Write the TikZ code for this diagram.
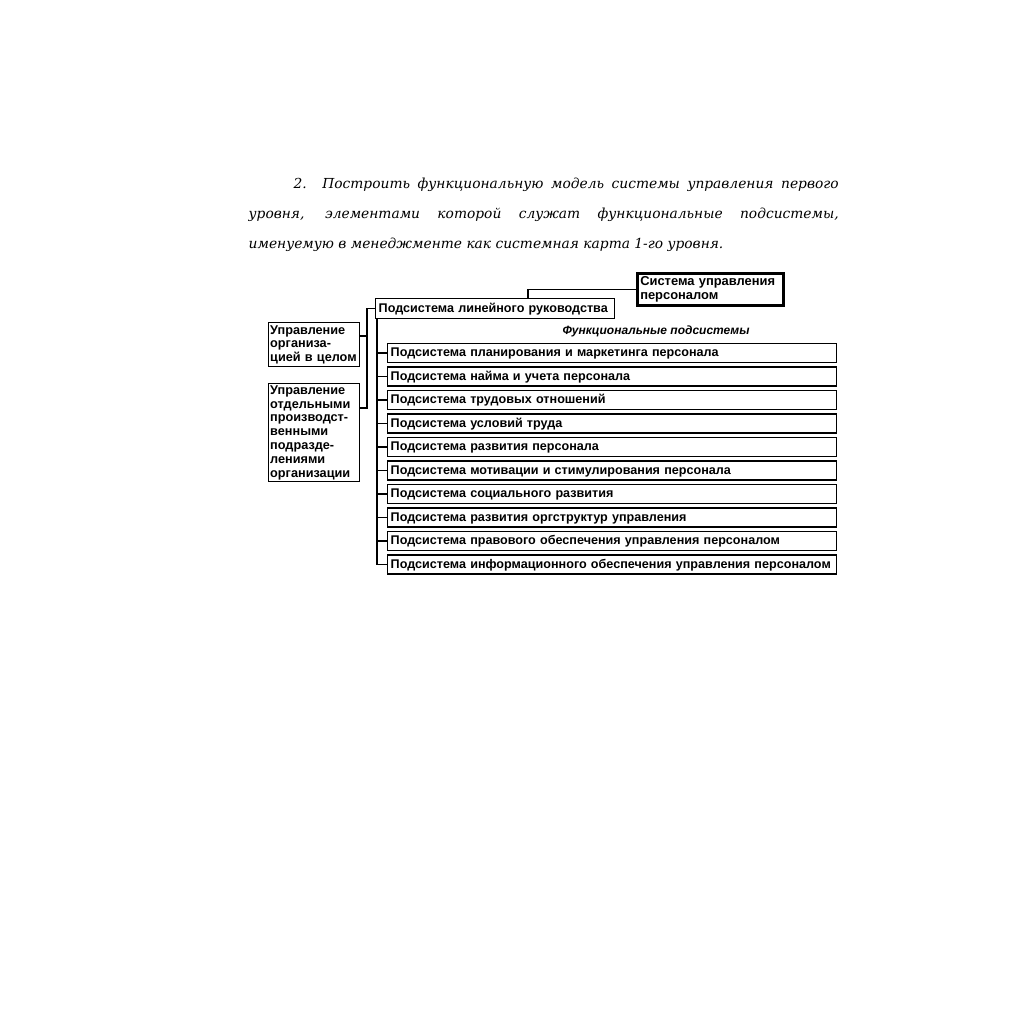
\documentclass[tikz,border=0pt]{standalone}
\usepackage{fontspec}
\setmainfont{DejaVu Serif}
\setsansfont{Liberation Sans}
\usetikzlibrary{positioning}
\tikzset{
  box/.style = {draw, rectangle, inner xsep=3pt, inner ysep=0pt, align=left,
                font=\sffamily\bfseries\fontsize{12.6}{13.8}\selectfont},
  subbox/.style = {box, anchor=west, minimum width=449pt, minimum height=19pt, text width=443pt,
                   text height=9pt, text depth=2pt},
  leftbox/.style = {box, anchor=north west, inner xsep=1.5pt, minimum width=91pt, text width=88pt,
                    font=\sffamily\bfseries\fontsize{12.7}{13.8}\selectfont}
}
\begin{document}
\begin{tikzpicture}[x=1pt, y=-1pt, line width=1.4pt]
\useasboundingbox (0,0) rectangle (1024,1024);
% task text
\node[anchor=north west, inner sep=0pt, text width=590pt, align=justify,
      font=\itshape\fontsize{13.8}{30}\selectfont] (task) at (248,177)
  {\hspace*{45pt}2. Построить функциональную модель системы управления первого уровня, элементами которой служат функциональные подсистемы, именуемую в менеджменте как системная карта 1-го уровня.};
% top boxes
\node[box, anchor=north west, line width=2.5pt, minimum width=146pt, minimum height=32pt, text width=140pt,
      font=\sffamily\bfseries\fontsize{12.9}{13.8}\selectfont] (sys) at (636,272)
  {Система управления\\персоналом};
\node[box, anchor=north west, minimum width=239pt, minimum height=20pt, text width=233pt,
      text height=9pt, text depth=2pt] (lin) at (375,298)
  {Подсистема линейного руководства};
\draw (sys.west) -| (528,0 |- lin.north);
% left boxes
\node[leftbox, minimum height=44pt] (org) at (268,322)
  {Управление\\организа-\\цией в целом};
\node[leftbox, minimum height=98pt] (div) at (268,383)
  {Управление\\отдельными\\производст-\\венными\\подразде-\\лениями\\организации};
\draw (lin.west) -- (367,0 |- lin.west) -- (367,408) -- (div.east |- 0,408);
\draw (org.east |- 0,336) -- (367,336);
% functional subsystems
\node[font=\sffamily\bfseries\itshape\fontsize{12}{14}\selectfont] (func) at (656,331) {Функциональные подсистемы};
\foreach \t [count=\i] in {Подсистема планирования и маркетинга персонала,
    Подсистема найма и учета персонала,
    Подсистема трудовых отношений,
    Подсистема условий труда,
    Подсистема развития персонала,
    Подсистема мотивации и стимулирования персонала,
    Подсистема социального развития,
    Подсистема развития оргструктур управления,
    Подсистема правового обеспечения управления персоналом,
    Подсистема информационного обеспечения управления персоналом}
  \node[subbox] (f\i) at (387,329.5+23.5*\i) {\t};
\draw (377,0 |- lin.south) -- (377,0 |- f10.west);
\foreach \i in {1,...,10}
  \draw (f\i.west) -- (377,0 |- f\i.west);
\end{tikzpicture}
\end{document}
